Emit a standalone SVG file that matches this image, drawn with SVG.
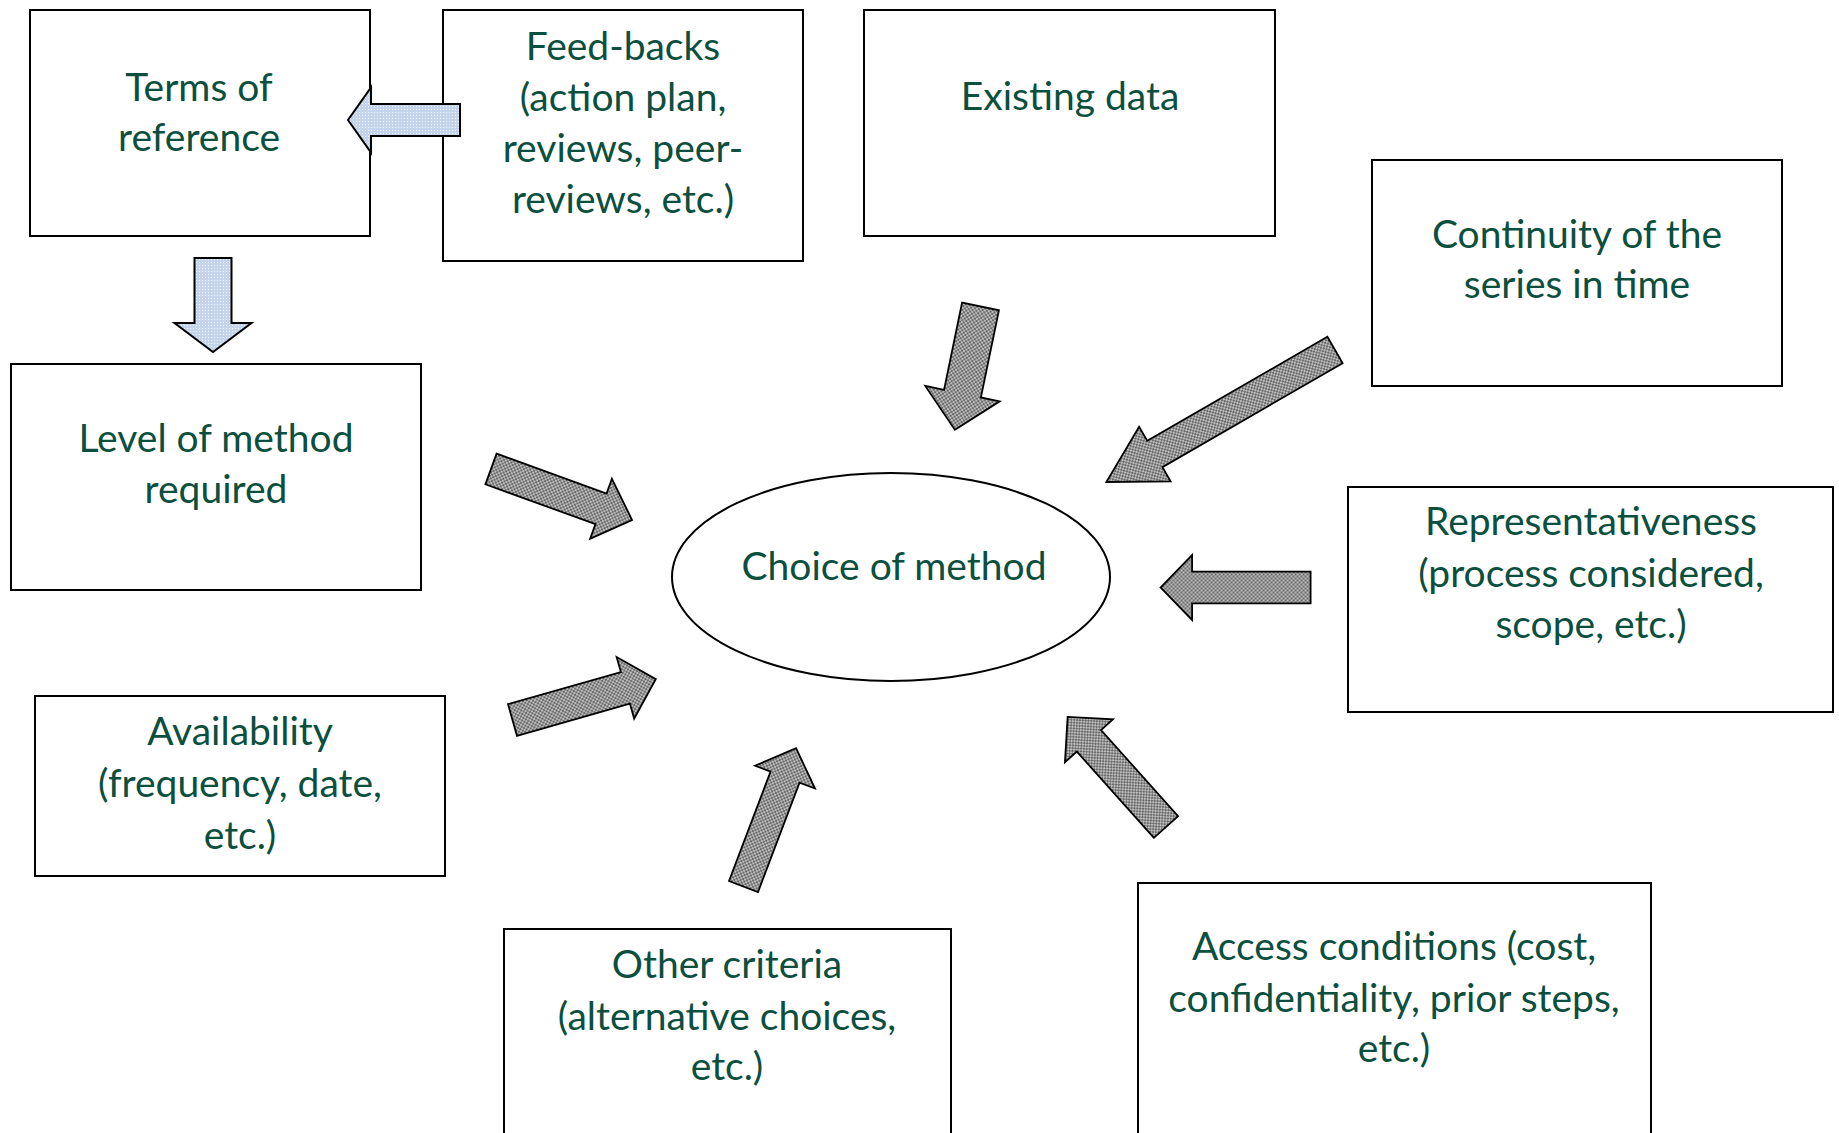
<svg xmlns="http://www.w3.org/2000/svg" width="1839" height="1133" viewBox="0 0 1839 1133">
<defs>
<pattern id="blueDots" width="3" height="3" patternUnits="userSpaceOnUse">
<rect width="3" height="3" fill="#c3d4ec"/>
<rect x="1" y="1" width="1" height="1" fill="#f4f8fd"/>
</pattern>
<pattern id="grayCheck" width="4" height="4" patternUnits="userSpaceOnUse">
<rect width="4" height="4" fill="#6a6a6a"/>
<rect x="0" y="0" width="2" height="2" fill="#bdbdbd"/>
<rect x="2" y="2" width="2" height="2" fill="#bdbdbd"/>
</pattern>
</defs>
<style>
.box{fill:#ffffff;stroke:#000000;stroke-width:2}
.lbl{font-family:Lato,"Open Sans","Noto Sans",sans-serif;font-size:39px;fill:#0b4f3e;text-anchor:middle}
.blue{fill:url(#blueDots);stroke:#000000;stroke-width:2;stroke-linejoin:miter}
.gray{fill:url(#grayCheck);stroke:#000000;stroke-width:1.8;stroke-linejoin:miter}
</style>
<rect width="1839" height="1133" fill="#ffffff"/>

<g id="node-terms">
<rect class="box" x="30" y="10" width="340" height="226"/>
<text class="lbl" x="199" y="101">Terms of</text>
<text class="lbl" x="199" y="151">reference</text>
</g>

<g id="node-feedbacks">
<rect class="box" x="443" y="10" width="360" height="251"/>
<text class="lbl" x="623" y="60">Feed-backs</text>
<text class="lbl" x="623" y="111">(action plan,</text>
<text class="lbl" x="623" y="162">reviews, peer-</text>
<text class="lbl" x="623" y="213">reviews, etc.)</text>
</g>

<g id="node-existing">
<rect class="box" x="864" y="10" width="411" height="226"/>
<text class="lbl" x="1070" y="110">Existing data</text>
</g>

<g id="node-continuity">
<rect class="box" x="1372" y="160" width="410" height="226"/>
<text class="lbl" x="1577" y="248">Continuity of the</text>
<text class="lbl" x="1577" y="298">series in time</text>
</g>

<g id="node-level">
<rect class="box" x="11" y="364" width="410" height="226"/>
<text class="lbl" x="216" y="452">Level of method</text>
<text class="lbl" x="216" y="503">required</text>
</g>

<g id="node-choice">
<ellipse cx="891" cy="577" rx="219" ry="104" fill="#ffffff" stroke="#000000" stroke-width="2"/>
<text class="lbl" x="894" y="580">Choice of method</text>
</g>

<g id="node-representativeness">
<rect class="box" x="1348" y="487" width="485" height="225"/>
<text class="lbl" x="1591" y="535">Representativeness</text>
<text class="lbl" x="1591" y="587">(process considered,</text>
<text class="lbl" x="1591" y="638">scope, etc.)</text>
</g>

<g id="node-availability">
<rect class="box" x="35" y="696" width="410" height="180"/>
<text class="lbl" x="240" y="745">Availability</text>
<text class="lbl" x="240" y="797">(frequency, date,</text>
<text class="lbl" x="240" y="849">etc.)</text>
</g>

<g id="node-other">
<rect class="box" x="504" y="929" width="447" height="220"/>
<text class="lbl" x="727" y="978">Other criteria</text>
<text class="lbl" x="727" y="1030">(alternative choices,</text>
<text class="lbl" x="727" y="1080">etc.)</text>
</g>

<g id="node-access">
<rect class="box" x="1138" y="883" width="513" height="266"/>
<text class="lbl" x="1394" y="960">Access conditions (cost,</text>
<text class="lbl" x="1394" y="1012">confidentiality, prior steps,</text>
<text class="lbl" x="1394" y="1062">etc.)</text>
</g>

<g id="connectors">
<path id="arr-feedbacks-terms" class="blue" transform="translate(460,120) rotate(180)" d="M0,-16 L89,-16 L89,-32.5 L112,0 L89,32.5 L89,16 L0,16 Z"/>
<path id="arr-terms-level" class="blue" transform="translate(213,258) rotate(90)" d="M0,-18.5 L65,-18.5 L65,-38.5 L94,0 L65,38.5 L65,18.5 L0,18.5 Z"/>
<path id="arr-existing-choice" class="gray" transform="translate(980.5,306.5) rotate(101.7)" d="M0,-18.8 L89,-18.8 L89,-38 L126,0 L89,38 L89,18.8 L0,18.8 Z"/>
<path id="arr-continuity-choice" class="gray" transform="translate(1335,350) rotate(150)" d="M0,-15.2 L208,-15.2 L208,-31.5 L264,0 L208,31.5 L208,15.2 L0,15.2 Z"/>
<path id="arr-level-choice" class="gray" transform="translate(491,469) rotate(19.9)" d="M0,-16.3 L117,-16.3 L117,-32 L150,0 L117,32 L117,16.3 L0,16.3 Z"/>
<path id="arr-availability-choice" class="gray" transform="translate(512.5,720) rotate(-15.9)" d="M0,-16.4 L117.4,-16.4 L117.4,-32 L149,0 L117.4,32 L117.4,16.4 L0,16.4 Z"/>
<path id="arr-other-choice" class="gray" transform="translate(743.5,886.5) rotate(-69.2)" d="M0,-15.5 L117,-15.5 L117,-32 L148,0 L117,32 L117,15.5 L0,15.5 Z"/>
<path id="arr-access-choice" class="gray" transform="translate(1166,827) rotate(-131.8)" d="M0,-16.2 L115.6,-16.2 L115.6,-32.2 L147.6,0 L115.6,32.2 L115.6,16.2 L0,16.2 Z"/>
<path id="arr-repr-choice" class="gray" transform="translate(1310.6,587.5) rotate(180)" d="M0,-15.8 L118.5,-15.8 L118.5,-32.5 L150,0 L118.5,32.5 L118.5,15.8 L0,15.8 Z"/>
</g>
</svg>
